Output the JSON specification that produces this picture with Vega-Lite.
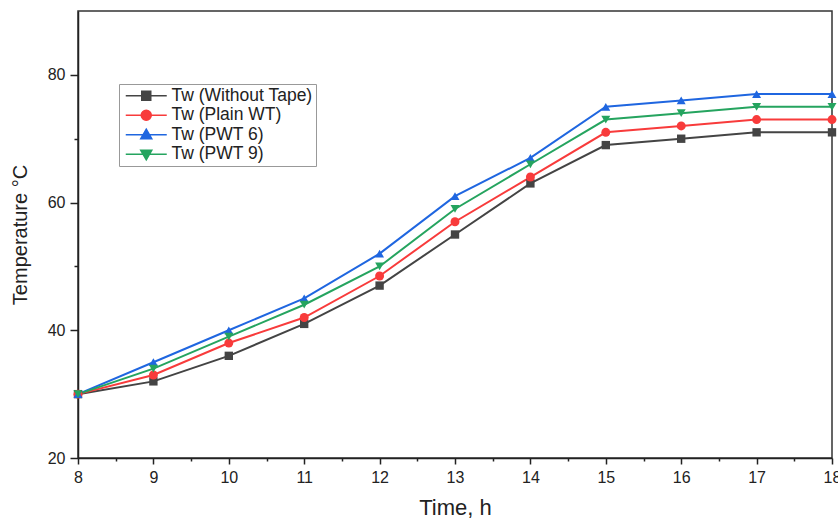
{
  "$schema": "https://vega.github.io/schema/vega-lite/v6.json",
  "autosize": "none",
  "width": 754,
  "height": 447,
  "padding": {"left": 78, "top": 11, "right": 6, "bottom": 63},
  "background": "white",
  "config": {
    "font": "Liberation Sans",
    "view": {"stroke": "#333333", "strokeWidth": 1.5},
    "axis": {"grid": false, "domainColor": "#222222", "domainWidth": 1.5, "tickColor": "#222222", "tickWidth": 1.5, "labelColor": "#222222", "titleColor": "#222222", "labelFontSize": 16, "titleFontWeight": "normal"}
  },
  "data": {
    "values": [
      {"t": 8, "s": "Tw (Without Tape)", "v": 30},
      {"t": 9, "s": "Tw (Without Tape)", "v": 32},
      {"t": 10, "s": "Tw (Without Tape)", "v": 36},
      {"t": 11, "s": "Tw (Without Tape)", "v": 41},
      {"t": 12, "s": "Tw (Without Tape)", "v": 47},
      {"t": 13, "s": "Tw (Without Tape)", "v": 55},
      {"t": 14, "s": "Tw (Without Tape)", "v": 63},
      {"t": 15, "s": "Tw (Without Tape)", "v": 69},
      {"t": 16, "s": "Tw (Without Tape)", "v": 70},
      {"t": 17, "s": "Tw (Without Tape)", "v": 71},
      {"t": 18, "s": "Tw (Without Tape)", "v": 71},
      {"t": 8, "s": "Tw (Plain WT)", "v": 30},
      {"t": 9, "s": "Tw (Plain WT)", "v": 33},
      {"t": 10, "s": "Tw (Plain WT)", "v": 38},
      {"t": 11, "s": "Tw (Plain WT)", "v": 42},
      {"t": 12, "s": "Tw (Plain WT)", "v": 48.5},
      {"t": 13, "s": "Tw (Plain WT)", "v": 57},
      {"t": 14, "s": "Tw (Plain WT)", "v": 64},
      {"t": 15, "s": "Tw (Plain WT)", "v": 71},
      {"t": 16, "s": "Tw (Plain WT)", "v": 72},
      {"t": 17, "s": "Tw (Plain WT)", "v": 73},
      {"t": 18, "s": "Tw (Plain WT)", "v": 73},
      {"t": 8, "s": "Tw (PWT 6)", "v": 30},
      {"t": 9, "s": "Tw (PWT 6)", "v": 35},
      {"t": 10, "s": "Tw (PWT 6)", "v": 40},
      {"t": 11, "s": "Tw (PWT 6)", "v": 45},
      {"t": 12, "s": "Tw (PWT 6)", "v": 52},
      {"t": 13, "s": "Tw (PWT 6)", "v": 61},
      {"t": 14, "s": "Tw (PWT 6)", "v": 67},
      {"t": 15, "s": "Tw (PWT 6)", "v": 75},
      {"t": 16, "s": "Tw (PWT 6)", "v": 76},
      {"t": 17, "s": "Tw (PWT 6)", "v": 77},
      {"t": 18, "s": "Tw (PWT 6)", "v": 77},
      {"t": 8, "s": "Tw (PWT 9)", "v": 30},
      {"t": 9, "s": "Tw (PWT 9)", "v": 34},
      {"t": 10, "s": "Tw (PWT 9)", "v": 39},
      {"t": 11, "s": "Tw (PWT 9)", "v": 44},
      {"t": 12, "s": "Tw (PWT 9)", "v": 50},
      {"t": 13, "s": "Tw (PWT 9)", "v": 59},
      {"t": 14, "s": "Tw (PWT 9)", "v": 66},
      {"t": 15, "s": "Tw (PWT 9)", "v": 73},
      {"t": 16, "s": "Tw (PWT 9)", "v": 74},
      {"t": 17, "s": "Tw (PWT 9)", "v": 75},
      {"t": 18, "s": "Tw (PWT 9)", "v": 75}
    ]
  },
  "encoding": {
    "x": {
      "field": "t", "type": "quantitative",
      "scale": {"domain": [8, 18], "nice": false, "zero": false},
      "axis": {
        "title": "Time, h", "titleFontSize": 22, "titlePadding": 12,
        "values": [8, 8.5, 9, 9.5, 10, 10.5, 11, 11.5, 12, 12.5, 13, 13.5, 14, 14.5, 15, 15.5, 16, 16.5, 17, 17.5, 18],
        "labelExpr": "datum.value % 1 === 0 ? format(datum.value, 'd') : ''",
        "tickSize": {"condition": {"test": "datum.value % 1 !== 0", "value": 3}, "value": 6},
        "labelPadding": 5, "labelFlush": false
      }
    },
    "y": {
      "field": "v", "type": "quantitative",
      "scale": {"domain": [20, 90], "nice": false, "zero": false},
      "axis": {
        "title": "Temperature °C", "titleFontSize": 20, "titlePadding": 17,
        "values": [20, 30, 40, 50, 60, 70, 80],
        "labelExpr": "datum.value % 20 === 0 ? format(datum.value, 'd') : ''",
        "tickSize": {"condition": {"test": "datum.value % 20 !== 0", "value": 4}, "value": 8},
        "labelPadding": 5
      }
    },
    "color": {
      "field": "s", "type": "nominal", "title": null,
      "sort": ["Tw (Without Tape)", "Tw (Plain WT)", "Tw (PWT 6)", "Tw (PWT 9)"],
      "scale": {"domain": ["Tw (Without Tape)", "Tw (Plain WT)", "Tw (PWT 6)", "Tw (PWT 9)"], "range": ["#444444", "#f83b3b", "#1f66e0", "#25a45f"]},
      "legend": {
        "orient": "none", "legendX": 41, "legendY": 73,
        "strokeColor": "#999999", "padding": 3, "labelFontSize": 17.5, "labelColor": "#222222",
        "symbolSize": 100, "rowPadding": 0.5, "labelLimit": 300, "labelOffset": 32, "fillColor": "white",
        "symbolStrokeWidth": 1.5,
        "encode": {
          "symbols": {
            "update": {
              "shape": {"signal": "datum.value === 'Tw (Without Tape)' ? 'M-1,0H7.2M2.2,-0.9H4V0.9H2.2Z' : datum.value === 'Tw (Plain WT)' ? 'M-1,0H7.2M4.1,0A1,1,0,1,1,2.1,0A1,1,0,1,1,4.1,0Z' : datum.value === 'Tw (PWT 6)' ? 'M-1,0H7.2M3.1,-1.1L4.2,0.8L2,0.8Z' : 'M-1,0H7.2M3.1,1.1L4.2,-0.8L2,-0.8Z'"},
              "fill": {"scale": "color", "field": "value"},
              "stroke": {"scale": "color", "field": "value"},
              "opacity": {"value": 1},
              "fillOpacity": {"value": 1},
              "strokeOpacity": {"value": 1}
            }
          }
        }
      }
    }
  },
  "layer": [
    {"mark": {"type": "line", "strokeWidth": 2}},
    {"transform": [{"filter": "datum.s === 'Tw (Without Tape)'"}], "mark": {"type": "point", "filled": true, "size": 70, "opacity": 1, "shape": "square"}},
    {"transform": [{"filter": "datum.s === 'Tw (Plain WT)'"}], "mark": {"type": "point", "filled": true, "size": 80, "opacity": 1, "shape": "circle"}},
    {"transform": [{"filter": "datum.s === 'Tw (PWT 6)'"}], "mark": {"type": "point", "filled": true, "size": 80, "opacity": 1, "shape": "triangle-up"}},
    {"transform": [{"filter": "datum.s === 'Tw (PWT 9)'"}], "mark": {"type": "point", "filled": true, "size": 80, "opacity": 1, "shape": "triangle-down"}}
  ]
}
